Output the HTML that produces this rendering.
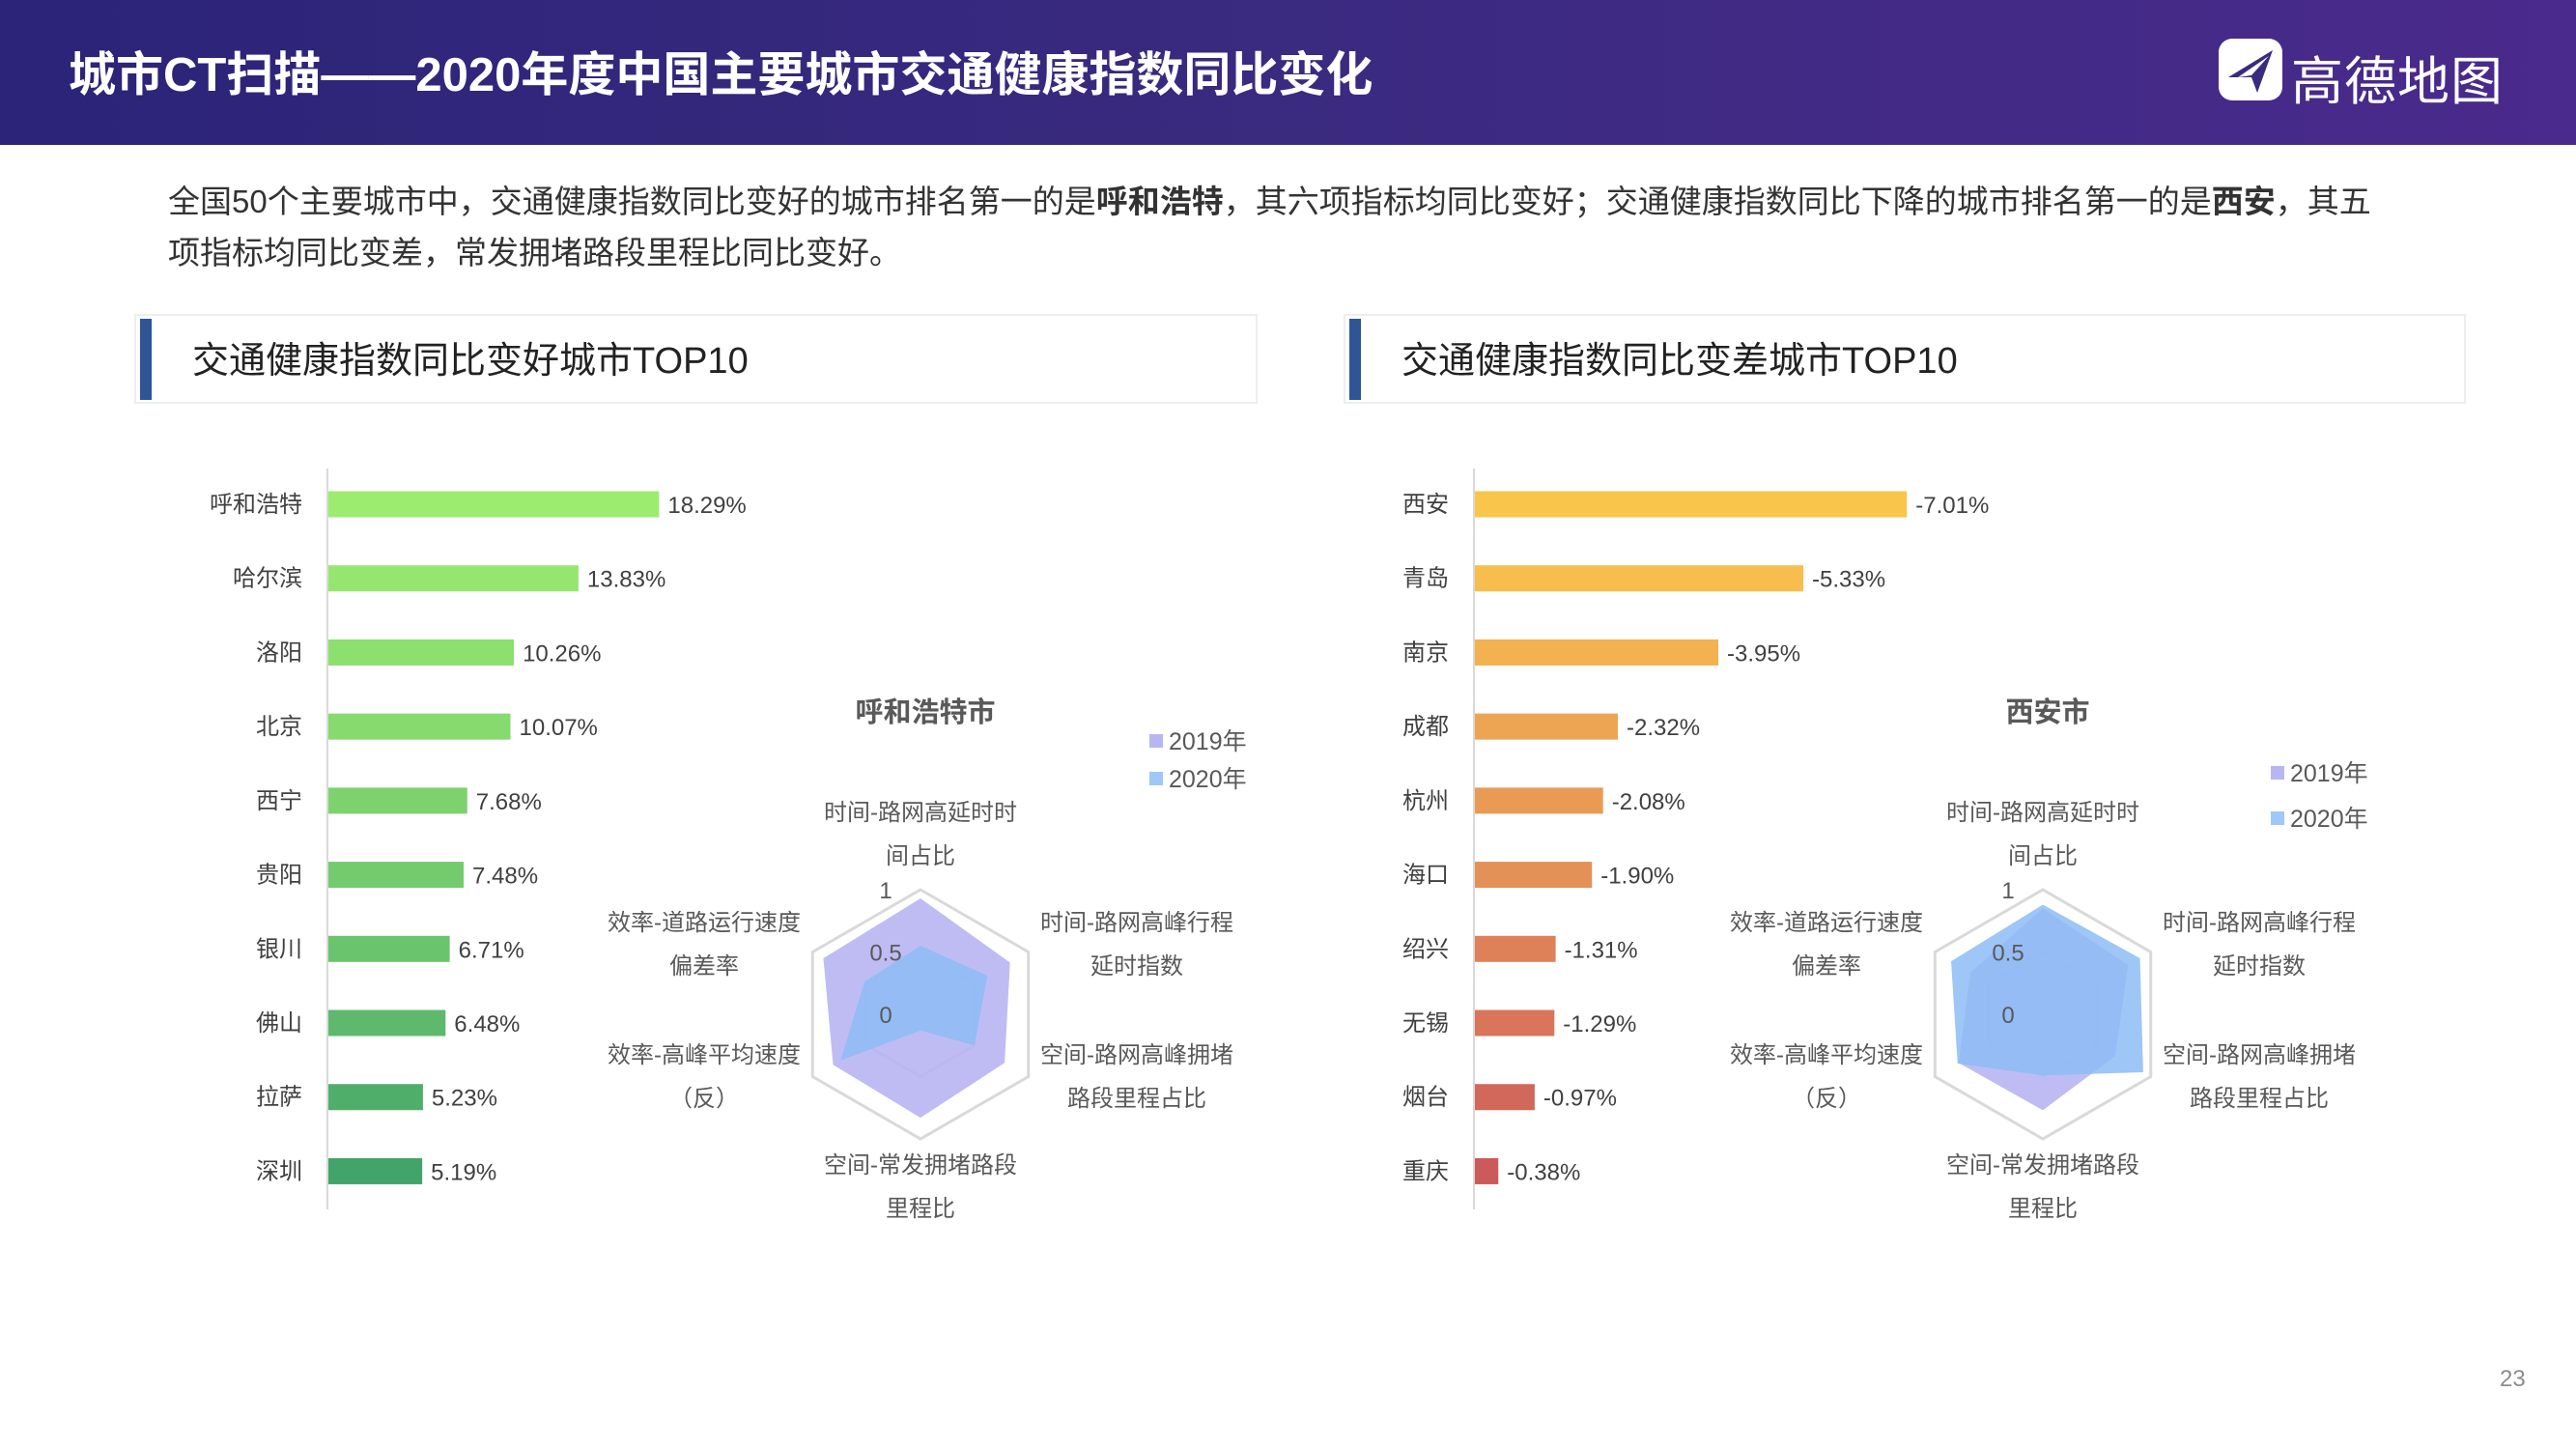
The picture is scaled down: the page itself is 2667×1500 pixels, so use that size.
<!DOCTYPE html>
<html><head><meta charset="utf-8">
<style>
body{margin:0;width:2667px;height:1500px;overflow:hidden;background:#fff;font-family:"Liberation Sans","Noto Sans CJK SC",sans-serif;}
#header{position:absolute;left:0;top:0;width:2667px;height:150px;background:linear-gradient(90deg,#2b2478 0%,#3a2a80 50%,#4a2a8c 100%);}
#title{position:absolute;left:71px;top:38px;color:#fff;font-size:49px;font-weight:bold;white-space:nowrap;}
#logo-text{position:absolute;left:2372px;top:40px;color:#fff;font-size:54px;letter-spacing:1px;white-space:nowrap;}
#summary{position:absolute;left:174px;top:182px;width:2300px;font-size:33px;line-height:53px;color:#333;}
.panel-head{position:absolute;top:325px;height:93px;border:2px solid #eeeeee;box-sizing:border-box;background:#fff;}
.panel-bar{position:absolute;left:4px;top:3px;width:12px;height:84px;background:#2f5597;}
.panel-title{position:absolute;left:58px;top:15px;font-size:38px;color:#222;white-space:nowrap;}
svg{position:absolute;left:0;top:0;}
</style></head><body>
<div id="header">
  <div id="title">城市CT扫描——2020年度中国主要城市交通健康指数同比变化</div>
  <svg style="left:2297px;top:40px" width="66" height="64" viewBox="0 0 66 64">
    <rect x="0" y="0" width="66" height="64" rx="14" fill="#fff"/>
    <path d="M10 40 L56 12 L40 56 L34 40 Z" fill="#3a2a80"/>
    <path d="M20 40 L52 18 L34 38 Z" fill="#fff"/>
  </svg>
  <div id="logo-text">高德地图</div>
</div>
<div id="summary">全国50个主要城市中，交通健康指数同比变好的城市排名第一的是<b>呼和浩特</b>，其六项指标均同比变好；交通健康指数同比下降的城市排名第一的是<b>西安</b>，其五项指标均同比变差，常发拥堵路段里程比同比变好。</div>
<div class="panel-head" style="left:139px;width:1163px"><div class="panel-bar"></div><div class="panel-title">交通健康指数同比变好城市TOP10</div></div>
<div class="panel-head" style="left:1391px;width:1162px"><div class="panel-bar"></div><div class="panel-title">交通健康指数同比变差城市TOP10</div></div>
<svg id="chart" width="2667" height="1500" style="top:0;left:0;pointer-events:none" font-family="Liberation Sans, Noto Sans CJK SC, sans-serif"></svg>
<div style="position:absolute;left:2588px;top:1414px;font-size:24px;color:#8c8c8c">23</div>
<script>
const goodCities=["呼和浩特","哈尔滨","洛阳","北京","西宁","贵阳","银川","佛山","拉萨","深圳"];
const goodValues=[18.29,13.83,10.26,10.07,7.68,7.48,6.71,6.48,5.23,5.19];
const badCities=["西安","青岛","南京","成都","杭州","海口","绍兴","无锡","烟台","重庆"];
const badValues=[-7.01,-5.33,-3.95,-2.32,-2.08,-1.90,-1.31,-1.29,-0.97,-0.38];
const radarAxes=[["时间-路网高延时时","间占比"],["时间-路网高峰行程","延时指数"],["空间-路网高峰拥堵","路段里程占比"],["空间-常发拥堵路段","里程比"],["效率-高峰平均速度","（反）"],["效率-道路运行速度","偏差率"]];
const radarTicks=[0,0.5,1];
const hohhot2019=[0.93,0.83,0.78,0.83,0.81,0.90];
const hohhot2020=[0.55,0.62,0.50,0.13,0.74,0.52];
const xian2019=[0.85,0.79,0.67,0.77,0.78,0.67];
const xian2020=[0.88,0.90,0.93,0.49,0.79,0.85];
const seriesNames=["2019年","2020年"];

const svg=document.getElementById('chart');
const NS="http://www.w3.org/2000/svg";
function mk(tag,attrs,parent){const e=document.createElementNS(NS,tag);for(const k in attrs)e.setAttribute(k,attrs[k]);(parent||svg).appendChild(e);return e;}
const greenCols=["#9cec70","#95e66e","#8ce06e","#86da6e","#7dd26e","#74cb6e","#6ac36d","#5eb96c","#50ae6b","#42a46a"];
const orangeCols=["#f9c54a","#f7bd4d","#f3b150","#eea553","#e99b56","#e49158","#de8159","#d8755a","#d2685a","#cc5a5a"];

function barChart(cities,vals,x0,scale,cols,prefix){
  const y0=522,step=45.1*1.701,bh=27;
  const ax=mk('line',{x1:x0,y1:485,x2:x0,y2:1252,stroke:'#d9d9d9','stroke-width':2});
  
  
  cities.forEach((c,i)=>{
    const yc=y0+i*step,w=Math.abs(vals[i])*scale;
    const r=mk('rect',{x:x0+1,y:yc-bh/2,width:w,height:bh,fill:cols[i]});
    
    
    const t=mk('text',{x:x0-26,y:yc+8,'text-anchor':'end','font-size':24,fill:'#404040'});
    t.textContent=c;
    
    
    const v=mk('text',{x:x0+w+10,y:yc+9,'font-size':24,fill:'#404040'});
    v.textContent=vals[i].toFixed(2)+'%';
    
    
  });
}
barChart(goodCities,goodValues,339,18.72,greenCols,'improved');
barChart(badCities,badValues,1526,63.8,orangeCols,'declined');

function radar(cx,cy,R,d19,d20,title,legY,legX,prefix){
  const ang=i=>-Math.PI/2+i*Math.PI/3;
  const pt=(i,v)=>[cx+R*v*Math.cos(ang(i)),cy+R*v*Math.sin(ang(i))];
  radarTicks.slice(1).forEach(tk=>{
    const g=mk('polygon',{points:radarAxes.map((a,i)=>pt(i,tk).join(',')).join(' '),fill:'none',stroke:tk===1?'#d9d9d9':'#eeeeee','stroke-width':3});
    
    
  });
  [[d19,'#a9a6f0',0.75],[d20,'#8dbcf5',0.85]].forEach((s,k)=>{
    const p=mk('polygon',{points:s[0].map((v,i)=>pt(i,v).join(',')).join(' '),fill:s[1],'fill-opacity':s[2]});
    
    
  });
  radarTicks.forEach(tk=>{
    const t=mk('text',{x:cx-36,y:cy-R*tk+9,'text-anchor':'middle','font-size':24,fill:'#595959'});
    t.textContent=String(tk);
    
    
  });
  const lp=[[cx,cy-R-72],[cx+224,cy-87],[cx+224,cy+50],[cx,cy+164],[cx-224,cy+50],[cx-224,cy-87]];
  radarAxes.forEach((a,i)=>{
    a.forEach((line,j)=>{
      const t=mk('text',{x:lp[i][0],y:lp[i][1]+j*45,'text-anchor':'middle','font-size':24,fill:'#595959'});
      t.textContent=line;
      
      
    });
  });
  const tt=mk('text',{x:cx+5,y:747,'text-anchor':'middle','font-size':29,'font-weight':'bold',fill:'#595959'});
  tt.textContent=title;
  
  
  ['#b8b6f2','#9ec8f7'].forEach((c,k)=>{
    const r=mk('rect',{x:legX,y:legY[k]-8,width:14,height:14,fill:c});
    
    
    const t=mk('text',{x:legX+20,y:legY[k]+8,'font-size':25,fill:'#595959'});
    t.textContent=seriesNames[k];
    
    
  });
}
radar(953,1050,129,hohhot2019,hohhot2020,'呼和浩特市',[768,807],1190,'hohhot-radar');
radar(2115,1050,129,xian2019,xian2020,'西安市',[801,848],2351,'xian-radar');
</script>
</body></html>
